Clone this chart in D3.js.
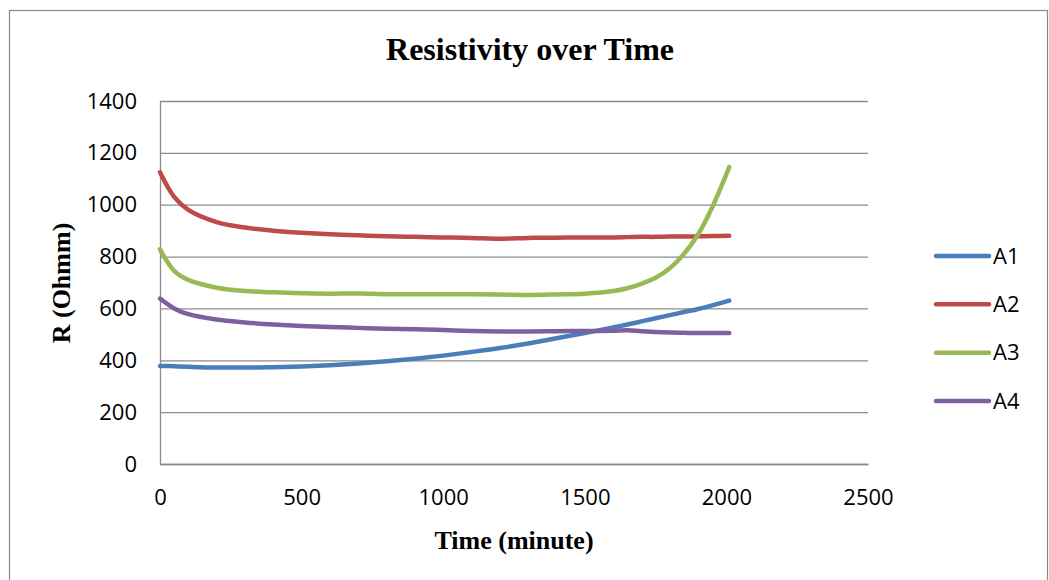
<!DOCTYPE html>
<html>
<head>
<meta charset="utf-8">
<script src="https://cdn.jsdelivr.net/npm/d3@7"></script>
<style>
  html, body { margin: 0; padding: 0; background: #fff; }
  svg { display: block; }
</style>
</head>
<body>
<svg id="chart" width="1049" height="580"></svg>
<script>
// Sampling times (minutes) shared by all four specimens
const minutes = [0, 50, 100, 200, 300, 400, 500, 600, 700, 800, 900, 1000, 1100, 1200,
                 1300, 1400, 1500, 1600, 1650, 1700, 1750, 1800, 1850, 1900, 1950, 2010];

// Resistivity readings (Ohmm) per specimen
const seriesNames = ["A1", "A2", "A3", "A4"];
const valuesA1 = [378, 377, 375, 372, 372, 373, 376, 381, 388, 396, 406, 418, 432, 447,
                  465, 485, 505, 527, 538, 550, 562, 574, 586, 598, 612, 630];
const valuesA2 = [1125, 1030, 980, 933, 912, 900, 892, 886, 882, 878, 876, 874, 872, 869,
                  872, 873, 874, 874, 875, 876, 876, 877, 877, 878, 879, 880];
const valuesA3 = [828, 745, 710, 680, 667, 662, 659, 657, 658, 655, 655, 655, 655, 654,
                  652, 654, 657, 667, 678, 695, 718, 755, 810, 885, 990, 1145];
const valuesA4 = [638, 600, 578, 557, 546, 538, 532, 528, 525, 522, 520, 517, 513, 511,
                  511, 512, 513, 514, 516, 512, 509, 507, 506, 505, 505, 505];
const seriesColors = ["#4a7ebb", "#be4b48", "#98b954", "#7d60a0"];

const xTicks = [0, 500, 1000, 1500, 2000, 2500];
const yTicks = [0, 200, 400, 600, 800, 1000, 1200, 1400];

const chartTitle = "Resistivity over Time";
const xTitle = "Time (minute)";
const yTitle = "R (Ohmm)";

const allValues = [valuesA1, valuesA2, valuesA3, valuesA4];
const series = seriesNames.map((name, i) => ({
  name,
  color: seriesColors[i],
  points: minutes.map((t, j) => ({ t, v: allValues[i][j] }))
}));

const svg = d3.select("#chart");
const plot = { left: 160, right: 868, top: 101, bottom: 464 };

const labelFont = "'Open Sans', 'Liberation Sans', Arial, sans-serif";
const serifFont = "'Liberation Serif', 'Times New Roman', serif";
const labelSize = 22;

// Outer chart frame
svg.append("rect")
  .attr("x", 9.5).attr("y", 10.5)
  .attr("width", 1038).attr("height", 600)
  .attr("fill", "#fff")
  .attr("stroke", "#8a8a8a")
  .attr("stroke-width", 1.2);

const x = d3.scaleLinear().domain([0, 2500]).range([plot.left, plot.right]);
const y = d3.scaleLinear().domain([0, 1400]).range([plot.bottom, plot.top]);

// Horizontal gridlines
const grid = svg.append("g")
  .attr("transform", `translate(${plot.left},0)`)
  .call(d3.axisLeft(y).tickValues(yTicks).tickSize(-(plot.right - plot.left)).tickFormat(""));
grid.select(".domain").remove();
grid.selectAll("line").attr("stroke", "#8c8c8c").attr("stroke-width", 1.3);

// Y axis line and labels
const yAxis = svg.append("g")
  .attr("transform", `translate(${plot.left},0)`)
  .call(d3.axisLeft(y).tickValues(yTicks).tickSize(0).tickPadding(23).tickFormat(d3.format("d")));
yAxis.select(".domain").attr("stroke", "#8c8c8c").attr("stroke-width", 1.3);
yAxis.selectAll("text")
  .attr("font-family", labelFont).attr("font-size", labelSize).attr("fill", "#000");

// X axis line and labels
const xAxis = svg.append("g")
  .attr("transform", `translate(0,${plot.bottom})`)
  .call(d3.axisBottom(x).tickValues(xTicks).tickSize(0).tickPadding(25).tickFormat(d3.format("d")));
xAxis.select(".domain").attr("stroke", "#8c8c8c").attr("stroke-width", 1.3);
xAxis.selectAll("text")
  .attr("font-family", labelFont).attr("font-size", labelSize).attr("fill", "#000");

// Series lines
const line = d3.line()
  .x(d => x(d.t))
  .y(d => y(d.v))
  .curve(d3.curveCatmullRom.alpha(0.5));

svg.append("g")
  .selectAll("path")
  .data(series)
  .join("path")
  .attr("d", d => line(d.points))
  .attr("fill", "none")
  .attr("stroke", d => d.color)
  .attr("stroke-width", 4.5)
  .attr("stroke-linecap", "round")
  .attr("stroke-linejoin", "round");

// Title
svg.append("text")
  .attr("x", 530).attr("y", 60)
  .attr("text-anchor", "middle")
  .attr("font-family", serifFont)
  .attr("font-weight", "bold")
  .attr("font-size", 32)
  .text(chartTitle);

// Axis titles
svg.append("text")
  .attr("x", 514).attr("y", 549)
  .attr("text-anchor", "middle")
  .attr("font-family", serifFont)
  .attr("font-weight", "bold")
  .attr("font-size", 26)
  .text(xTitle);

svg.append("text")
  .attr("transform", `translate(70,283) rotate(-90)`)
  .attr("text-anchor", "middle")
  .attr("font-family", serifFont)
  .attr("font-weight", "bold")
  .attr("font-size", 26)
  .text(yTitle);

// Legend
const legendY = d3.scalePoint().domain(seriesNames).range([256, 401]);
const items = svg.append("g").selectAll("g")
  .data(series)
  .join("g")
  .attr("transform", d => `translate(0,${legendY(d.name)})`);
items.append("line")
  .attr("x1", 936).attr("x2", 989)
  .attr("y1", 0).attr("y2", 0)
  .attr("stroke", d => d.color)
  .attr("stroke-width", 4.5)
  .attr("stroke-linecap", "round");
items.append("text")
  .attr("x", 993).attr("y", 0)
  .attr("dy", "0.35em")
  .attr("font-family", labelFont)
  .attr("font-size", labelSize)
  .text(d => d.name);
</script>
</body>
</html>
